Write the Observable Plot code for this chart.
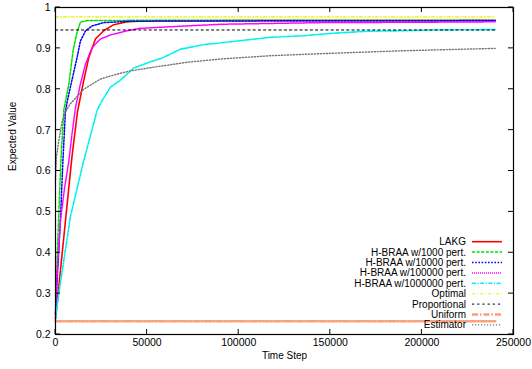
<!DOCTYPE html>
<html><head><meta charset="utf-8">
<script src="https://cdn.jsdelivr.net/npm/d3@7"></script>
<script src="https://cdn.jsdelivr.net/npm/@observablehq/plot@0.6"></script>
<style>
body{margin:0;background:#fff;}
#chart svg{font-family:"Liberation Sans",Arial,sans-serif;}
</style>
</head><body><div id="chart"></div>
<script>
// ---- data ----
const seriesNames = ["LAKG","H-BRAA w/1000 pert.","H-BRAA w/10000 pert.","H-BRAA w/100000 pert.","H-BRAA w/1000000 pert.","Optimal","Proportional","Uniform","Estimator"];

const lakgT = [0, 3000, 6000, 9000, 12000, 15400, 18200, 21800, 26300, 31800, 39100, 50000, 100000, 240000];
const lakgV = [0.238, 0.37, 0.503, 0.635, 0.745, 0.821, 0.878, 0.923, 0.943, 0.958, 0.965, 0.967, 0.968, 0.968];

const braa1kT = [0, 1000, 2000, 3000, 4500, 7300, 9600, 11500, 13600, 17300, 60000, 240000];
const braa1kV = [0.25, 0.40, 0.52, 0.63, 0.748, 0.813, 0.894, 0.935, 0.964, 0.968, 0.969, 0.969];

const braa10kT = [0, 1000, 2700, 4000, 5400, 6400, 8500, 11800, 13600, 16400, 20000, 26300, 39100, 60000, 240000];
const braa10kV = [0.25, 0.34, 0.48, 0.62, 0.745, 0.77, 0.813, 0.878, 0.918, 0.943, 0.955, 0.963, 0.966, 0.967, 0.968];

const braa100kT = [0, 1000, 2700, 5000, 7300, 9000, 10900, 13600, 16400, 20000, 24500, 30000, 39100, 46000, 71800, 90000, 144500, 200000, 240000];
const braa100kV = [0.25, 0.36, 0.479, 0.56, 0.625, 0.69, 0.755, 0.813, 0.862, 0.902, 0.923, 0.933, 0.943, 0.949, 0.955, 0.959, 0.963, 0.964, 0.965];

const braa1mT = [0, 1800, 8200, 15400, 22700, 25400, 30000, 35400, 42700, 53600, 58000, 62700, 68200, 80900, 99100, 117200, 135400, 151600, 170000, 188100, 206100, 240000];
const braa1mV = [0.24, 0.30, 0.49, 0.625, 0.748, 0.772, 0.805, 0.822, 0.852, 0.87, 0.876, 0.886, 0.898, 0.909, 0.918, 0.927, 0.931, 0.937, 0.942, 0.943, 0.945, 0.946];

const optimalT = [0, 240000];
const optimalV = [0.977, 0.977];

const proportionalT = [0, 240000];
const proportionalV = [0.945, 0.945];

const uniformT = [0, 240000];
const uniformV = [0.2325, 0.2325];

const estimatorT = [0, 500, 1800, 3600, 5500, 8000, 15400, 24500, 33600, 40900, 53600, 71800, 90000, 117200, 144500, 188100, 240000];
const estimatorV = [0.58, 0.635, 0.674, 0.72, 0.745, 0.764, 0.80, 0.825, 0.837, 0.845, 0.854, 0.866, 0.874, 0.882, 0.887, 0.894, 0.90];

const xTicks = [0, 50000, 100000, 150000, 200000, 250000];
const yTicks = [0.2, 0.3, 0.4, 0.5, 0.6, 0.7, 0.8, 0.9, 1];

// ---- styles ----
const seriesT = [lakgT, braa1kT, braa10kT, braa100kT, braa1mT, optimalT, proportionalT, uniformT, estimatorT];
const seriesV = [lakgV, braa1kV, braa10kV, braa100kV, braa1mV, optimalV, proportionalV, uniformV, estimatorV];
const styles = [
  {stroke:"#ff0000", dash:null, w:1.6},
  {stroke:"#00e000", dash:"3,1.6", w:1.5},
  {stroke:"#0000ff", dash:"1.6,1.6", w:1.5},
  {stroke:"#ff00ff", dash:"1,1", w:1.5},
  {stroke:"#00f0f0", dash:"4,1.5,1.2,1.5", w:1.6},
  {stroke:"#eeee00", dash:"3,2,1,2", w:1.1},
  {stroke:"#000000", dash:"2.2,3", w:1},
  {stroke:"#f9a07c", dash:"6,2,1.5,2", w:2.4},
  {stroke:"#777777", dash:"1.2,1.8", w:1.4}
];

const tables = seriesNames.map((name, i) => seriesT[i].map((t, j) => ({t, v: seriesV[i][j], s: name})));

const W = 532, H = 369;
const margin = {top: 7, right: 19, bottom: 35, left: 55};
const tickLen = 5;

const plot = Plot.plot({
  width: W, height: H,
  marginTop: margin.top, marginRight: margin.right, marginBottom: margin.bottom, marginLeft: margin.left,
  style: {fontSize: "10.5px", fontFamily: "'Liberation Sans', Arial, sans-serif", background: "#fff", color: "#000"},
  x: {domain: [0, 250000]},
  y: {domain: [0.2, 1]},
  marks: [
    ...tables.map((data, i) => Plot.line(data, {x: "t", y: "v", stroke: styles[i].stroke, strokeWidth: styles[i].w, strokeDasharray: styles[i].dash, strokeLinejoin: "round"})),
    Plot.frame({stroke: "#000", strokeWidth: 1.2}),
    Plot.axisX(xTicks, {anchor: "bottom", tickSize: 0, tickPadding: 4, tickFormat: d => String(d), label: null}),
    Plot.axisY(yTicks, {anchor: "left", tickSize: 0, tickPadding: 5, tickFormat: d => String(+d.toFixed(1)), label: null}),
    Plot.text(["Time Step"], {frameAnchor: "bottom", dy: 24, fontSize: 10}),
    Plot.text(["Expected Value"], {frameAnchor: "left", dx: -43, rotate: -90, fontSize: 10})
  ]
});

const svg = d3.select(plot);
const sx = plot.scale("x"), sy = plot.scale("y");
const x0 = sx.range[0], x1 = sx.range[1], y0 = sy.range[0], y1 = sy.range[1];

// inward ticks on all four sides (gnuplot style)
const tk = svg.append("g").attr("stroke", "#000").attr("stroke-width", 1);
xTicks.forEach(t => {
  const x = sx.apply(t);
  tk.append("line").attr("x1", x).attr("x2", x).attr("y1", y0).attr("y2", y0 - tickLen);
  tk.append("line").attr("x1", x).attr("x2", x).attr("y1", y1).attr("y2", y1 + tickLen);
});
yTicks.forEach(v => {
  const y = sy.apply(v);
  tk.append("line").attr("x1", x0).attr("x2", x0 + tickLen).attr("y1", y).attr("y2", y);
  tk.append("line").attr("x1", x1).attr("x2", x1 - tickLen).attr("y1", y).attr("y2", y);
});

// legend inside plot (gnuplot-style key, bottom right)
const key = svg.append("g").attr("font-size", 10).attr("font-family", "'Liberation Sans', Arial, sans-serif");
const keyTextX = 466, keyLineX1 = 472, keyLineX2 = 502, keyY0 = 241.7, keyStep = 10.4;
seriesNames.forEach((name, i) => {
  const y = keyY0 + i * keyStep;
  key.append("text").attr("x", keyTextX).attr("y", y).attr("dy", "0.35em").attr("text-anchor", "end").attr("fill", "#000").text(name);
  key.append("line").attr("x1", keyLineX1).attr("x2", keyLineX2).attr("y1", y).attr("y2", y)
    .attr("stroke", styles[i].stroke).attr("stroke-width", styles[i].w)
    .attr("stroke-dasharray", styles[i].dash);
});

document.getElementById("chart").appendChild(plot);
</script>
</body></html>
